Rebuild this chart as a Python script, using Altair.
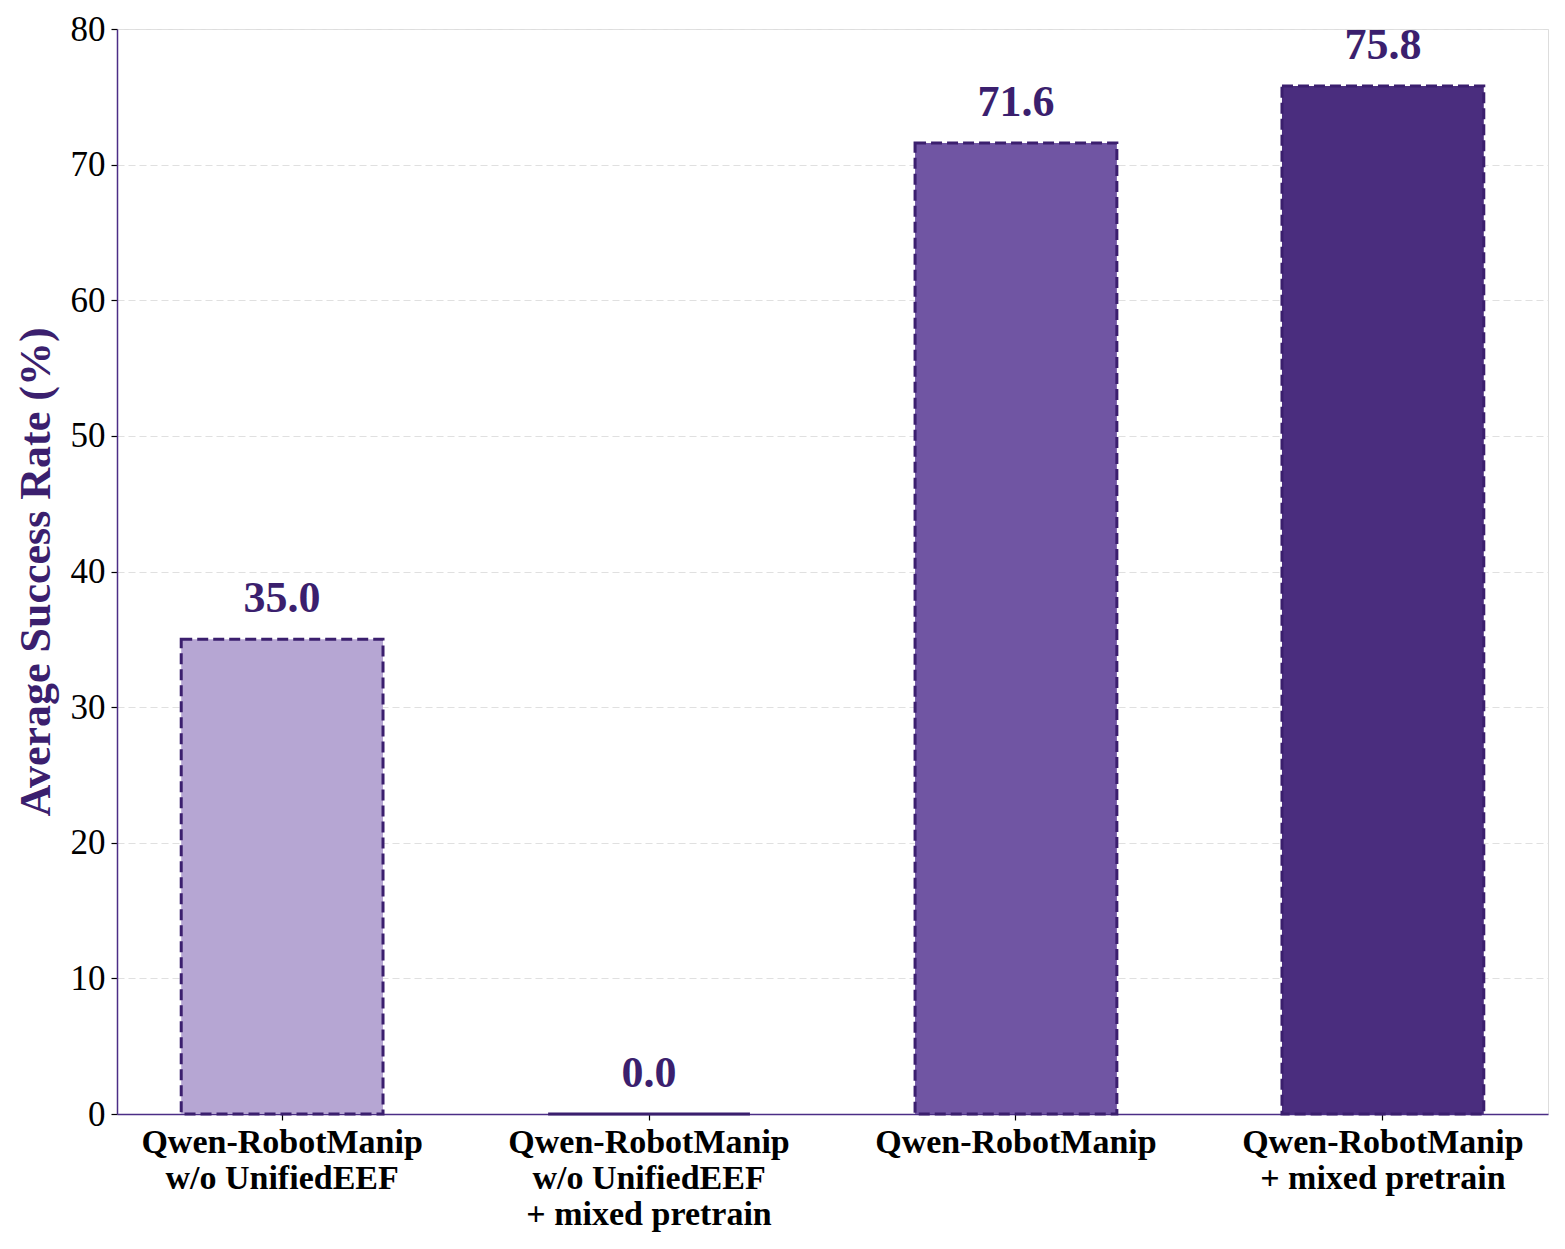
import altair as alt
import pandas as pd

categories = [
    "Qwen-RobotManip|w/o UnifiedEEF",
    "Qwen-RobotManip|w/o UnifiedEEF|+ mixed pretrain",
    "Qwen-RobotManip",
    "Qwen-RobotManip|+ mixed pretrain",
]
values = [35.0, 0.0, 71.6, 75.8]
colors = ["#b6a6d3", "#b6a6d3", "#7055a3", "#4a2d7e"]
labels = ["35.0", "0.0", "71.6", "75.8"]

df = pd.DataFrame({"cat": categories, "val": values, "color": colors, "lab": labels})

FONT = "Liberation Serif"
DARK = "#3b1f6e"

x_enc = alt.X(
    "cat:N",
    sort=categories,
    scale=alt.Scale(paddingInner=0.45, paddingOuter=0.175),
    axis=alt.Axis(
        title=None,
        labelAngle=0,
        labelExpr="split(datum.label, '|')",
        labelFont=FONT,
        labelFontSize=34,
        labelFontWeight="bold",
        labelColor="black",
        labelLineHeight=36,
        labelLimit=0,
        labelPadding=5,
        domainColor="#4b2d86",
        domainWidth=1.5,
        tickColor="black",
        tickSize=6,
        tickWidth=1.2,
        grid=False,
    ),
)

y_enc = alt.Y(
    "val:Q",
    scale=alt.Scale(domain=[0, 80], nice=False),
    axis=alt.Axis(
        title="Average Success Rate (%)",
        titleFont=FONT,
        titleFontSize=44,
        titleFontWeight="bold",
        titleColor=DARK,
        titlePadding=12,
        values=[0, 10, 20, 30, 40, 50, 60, 70, 80],
        labelFont=FONT,
        labelFontSize=35,
        labelColor="black",
        labelPadding=6,
        domainColor="#4b2d86",
        domainWidth=1.5,
        tickColor="black",
        tickSize=6,
        tickWidth=1.2,
        grid=True,
        gridColor="#e0e0e0",
        gridDash=[7, 4],
        gridWidth=1.2,
    ),
)

bars = alt.Chart(df).mark_bar(
    stroke=DARK, strokeWidth=3, strokeDash=[11, 5]
).encode(
    x=x_enc,
    y=y_enc,
    fill=alt.Fill("color:N", scale=None),
)

text = alt.Chart(df).mark_text(
    font=FONT, fontSize=44, fontWeight="bold", color=DARK, baseline="bottom", dy=-18
).encode(
    x=alt.X("cat:N", sort=categories),
    y=alt.Y("val:Q"),
    text="lab:N",
)

chart = (
    alt.layer(bars, text)
    .properties(
        width=1431,
        height=1085,
        autosize=alt.AutoSizeParams(type="none"),
        padding={"left": 117, "top": 29, "right": 17, "bottom": 135},
    )
    .configure_view(stroke="transparent", strokeWidth=0, strokeOpacity=0)
    .configure(background="white")
)

chart.save("out.html", embed_options={"renderer": "svg", "actions": False})
